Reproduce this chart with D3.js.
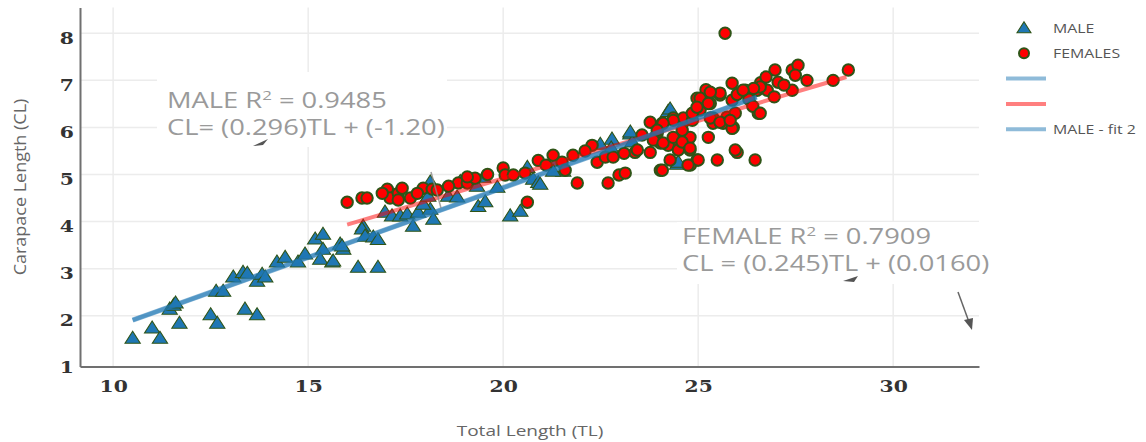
<!DOCTYPE html>
<html><head><meta charset="utf-8">
<script src="https://cdn.jsdelivr.net/npm/d3@7"></script>
<style>
html,body{margin:0;padding:0;background:#fff;}
svg{display:block;}
</style></head>
<body>
<svg id="chart" width="1146" height="442"></svg>
<script>
// ---- data ----
const xTicks = [10, 15, 20, 25, 30];
const yTicks = [1, 2, 3, 4, 5, 6, 7, 8];

const maleTL = [10.5,11.0,11.2,11.7,11.45,11.55,11.6,12.5,12.67,12.64,12.82,13.08,13.33,13.44,13.38,13.69,13.69,13.82,13.9,14.2,14.41,14.74,14.92,15.18,15.38,15.38,15.31,15.62,15.82,15.9,15.64,15.87,16.28,16.79,16.41,16.38,16.46,16.67,16.79,16.97,17.15,17.36,17.54,17.69,17.82,18.13,18.21,17.95,18.13,18.08,18.59,18.82,19.36,19.54,18.9,19.08,19.49,19.33,19.85,20.18,20.44,20.62,20.77,20.9,21.38,21.54,20.95,21.28,22.49,22.79,23.26,24.23,23.31,22.77,24.46,24.28,23.26,24.49];
const maleCL = [1.5,1.72,1.5,1.82,2.12,2.2,2.25,2.0,1.82,2.5,2.5,2.8,2.9,2.88,2.12,2.0,2.71,2.86,2.8,3.12,3.22,3.12,3.29,3.61,3.71,3.39,3.18,3.12,3.5,3.39,3.14,3.46,3.01,3.01,3.88,3.82,3.67,3.65,3.6,4.18,4.1,4.1,4.14,3.88,4.18,4.24,4.03,4.35,4.82,4.52,4.52,4.5,4.3,4.4,4.83,4.88,4.92,4.73,4.71,4.1,4.2,5.13,4.88,4.81,5.26,5.05,4.77,5.05,5.62,5.73,5.84,6.32,5.67,5.54,5.2,6.37,5.88,5.24];

const femaleTL = [16.0,16.38,16.51,17.03,17.1,17.31,17.41,17.62,17.31,17.95,18.18,18.31,18.85,19.08,19.28,19.08,20.0,20.05,20.26,20.56,20.62,21.28,21.51,21.79,21.59,21.9,22.28,22.41,22.62,22.82,22.69,22.97,23.38,23.77,23.56,23.9,24.03,24.28,24.08,24.36,24.62,24.46,24.74,24.87,24.97,25.26,25.49,26.0,24.97,25.31,25.56,25.74,25.9,25.69,26.97,27.41,27.56,27.49,27.79,28.46,28.85,25.87,26.21,26.51,26.77,27.41,27.05,25.87,25.38,25.95,25.64,25.87,26.54,26.46,24.62,24.85,24.79,24.49,25.05,25.38,23.77,23.95,24.03,24.23,24.49,24.79,24.85,26.3,26.6,26.0,25.2,26.95,27.2,26.4,20.9,19.6,18.6,17.8,16.9,23.1,22.1,21.1,24.8,
  26.74,26.59,26.42,26.15,25.56,25.31,25.05,25.26,24.97,25.31,25.56,25.82,26.59,24.59,24.36,24.1,23.95,23.85,24.1,24.36,24.59,24.79,23.44,25.0,25.95,24.08,24.74,23.13];
const femaleCL = [4.41,4.5,4.5,4.69,4.5,4.6,4.71,4.5,4.46,4.71,4.69,4.67,4.82,4.82,4.92,4.95,5.14,4.99,4.99,5.03,4.41,5.41,5.26,5.41,5.09,4.82,5.62,5.26,5.37,5.37,4.82,4.99,5.47,5.47,5.84,5.79,5.09,5.31,6.09,6.2,6.11,5.69,5.73,6.3,5.31,5.79,5.31,5.47,6.62,6.51,6.69,6.22,6.0,8.0,7.22,7.22,7.32,7.11,7.0,7.0,7.22,6.94,6.79,6.79,6.79,6.79,6.96,6.58,6.2,6.3,6.09,5.98,6.3,5.31,6.2,6.15,5.79,5.69,6.37,6.09,6.11,5.88,5.67,5.62,5.52,5.52,6.3,6.6,6.95,6.7,6.8,6.65,6.9,6.45,5.3,5.0,4.75,4.6,4.6,5.45,5.5,5.2,5.2,
  7.07,6.86,6.83,6.79,6.73,6.75,6.62,6.51,6.43,6.2,6.11,6.15,6.3,5.94,6.15,6.09,5.94,5.73,5.67,5.79,5.69,5.56,5.52,5.31,5.52,5.09,5.2,5.03];

// fitted lines (from annotations)
const maleFit = {slope: 0.296, intercept: -1.20, from: 10.5, to: 26.5};
const femaleFit = {slope: 0.245, intercept: 0.016, from: 16.0, to: 28.8};

const legendLabels = ["MALE", "FEMALES", "", "", "MALE - fit 2"];

// ---- scales ----
const svg = d3.select("#chart");
const x = d3.scaleLinear().domain([9.15, 32.2]).range([80, 979]);
const y = d3.scaleLinear().domain([0.92, 8.55]).range([366.6, 7.4]);

const BLUE = "#1f77b4", RED = "#ff0000", EDGE = "#2f5417";
const SX = 1.27; // horizontal stretch of the text in the reference

function stretch(sel, sx, sy) {
  sel.each(function () {
    const t = d3.select(this);
    const tx = +t.attr("x") || 0, ty = +t.attr("y") || 0;
    const prev = t.attr("transform") || "";
    t.attr("x", 0).attr("y", 0)
     .attr("transform", `${prev} translate(${tx},${ty}) scale(${sx},${sy || 1})`);
  });
}

// grid
const grid = svg.append("g");
grid.selectAll("line.h").data(yTicks.filter(d => d > 1)).join("line")
  .attr("x1", x.range()[0]).attr("x2", x.range()[1])
  .attr("y1", d => y(d)).attr("y2", d => y(d))
  .attr("stroke", "#ececec").attr("stroke-width", 1.5);
grid.selectAll("line.v").data(xTicks).join("line")
  .attr("y1", y.range()[0]).attr("y2", y.range()[1])
  .attr("x1", d => x(d)).attr("x2", d => x(d))
  .attr("stroke", "#ececec").attr("stroke-width", 1.5);

// annotation background boxes (hide gridlines)
svg.append("rect").attr("x", 157).attr("y", 72).attr("width", 290).attr("height", 75).attr("fill", "#fff");
svg.append("rect").attr("x", 677).attr("y", 222).attr("width", 320).attr("height", 62).attr("fill", "#fff");

// axes
const xAxis = d3.axisBottom(x).tickValues(xTicks).tickSize(0).tickPadding(14);
const yAxis = d3.axisLeft(y).tickValues(yTicks).tickSize(0).tickPadding(6);
const gx = svg.append("g").attr("transform", `translate(0,${y.range()[0]})`).call(xAxis);
const gy = svg.append("g").attr("transform", `translate(${x.range()[0]},0)`).call(yAxis);
[gx, gy].forEach(g => {
  g.select(".domain").attr("stroke", "#707070").attr("stroke-width", 2);
  g.selectAll("text").attr("font-family", "DejaVu Serif").attr("font-weight", "bold")
    .attr("font-size", 16).attr("fill", "#333");
});
gy.selectAll("text").attr("dy", "0.62em");
stretch(gx.selectAll("text"), SX);
stretch(gy.selectAll("text"), SX);

// markers
const males = maleTL.map((t, i) => [t, maleCL[i]]);
const females = femaleTL.map((t, i) => [t, femaleCL[i]]);
const tri = d3.symbol(d3.symbolTriangle, 84);
svg.append("g").selectAll("path").data(males).join("path")
  .attr("d", tri)
  .attr("transform", d => `translate(${x(d[0])},${y(d[1])}) scale(1.1,1)`)
  .attr("fill", BLUE).attr("stroke", EDGE).attr("stroke-width", 1);
svg.append("g").selectAll("circle").data(females).join("circle")
  .attr("cx", d => x(d[0])).attr("cy", d => y(d[1])).attr("r", 5.7)
  .attr("fill", RED).attr("stroke", EDGE).attr("stroke-width", 2);

// fit lines
function fitLine(f) { return [[f.from, f.slope * f.from + f.intercept], [f.to, f.slope * f.to + f.intercept]]; }
const line = d3.line().x(d => x(d[0])).y(d => y(d[1]));
svg.append("path").attr("d", line(fitLine(femaleFit))).attr("stroke", RED).attr("stroke-opacity", 0.5)
  .attr("stroke-width", 4).attr("fill", "none");
svg.append("path").attr("d", line(fitLine(maleFit))).attr("stroke", BLUE).attr("stroke-opacity", 0.55)
  .attr("stroke-width", 5).attr("fill", "none");
svg.append("path").attr("d", line(fitLine(maleFit))).attr("stroke", BLUE).attr("stroke-opacity", 0.5)
  .attr("stroke-width", 4).attr("fill", "none");

// annotation arrows
svg.append("line").attr("x1", 431).attr("y1", 172).attr("x2", 441).attr("y2", 208)
  .attr("stroke", "#888").attr("stroke-width", 1.5).attr("stroke-opacity", 0.8);
svg.append("path").attr("d", "M253,146 L268,139 L263,145 Z").attr("fill", "#555");
svg.append("path").attr("d", "M843,281 L858,276 L854,282 Z").attr("fill", "#555");
svg.append("line").attr("x1", 958).attr("y1", 292).attr("x2", 969).attr("y2", 322)
  .attr("stroke", "#666").attr("stroke-width", 1.5);
svg.append("path").attr("d", "M964,320 L972,330 L973,318 Z").attr("fill", "#555");

// annotation text
const AF = 21, ASX = 1.3;
function annot(x0, y0, name, r2, eq) {
  const t = svg.append("text").attr("x", x0).attr("y", y0)
    .attr("font-family", "Open Sans").attr("font-size", AF).attr("fill", "#9a9a9a");
  t.append("tspan").text(name + " R");
  t.append("tspan").attr("dy", -8).attr("font-size", 13).text("2");
  t.append("tspan").attr("dy", 8).text(" = " + r2);
  stretch(t, ASX);
  const t2 = svg.append("text").attr("x", x0).attr("y", y0 + 27)
    .attr("font-family", "Open Sans").attr("font-size", AF).attr("fill", "#9a9a9a").text(eq);
  stretch(t2, ASX);
}
annot(167, 108, "MALE", "0.9485", "CL= (0.296)TL + (-1.20)");
annot(682, 244, "FEMALE", "0.7909", "CL = (0.245)TL + (0.0160)");

// axis titles
const yt = svg.append("text").attr("transform", "translate(26,187) rotate(-90) scale(1.2,1.1)").attr("text-anchor", "middle")
  .attr("font-family", "Open Sans").attr("font-size", 15).attr("fill", "#666").text("Carapace Length (CL)");
const xt = svg.append("text").attr("x", 530).attr("y", 436).attr("text-anchor", "middle")
  .attr("font-family", "Open Sans").attr("font-size", 15).attr("fill", "#666").text("Total Length (TL)");
stretch(xt, SX);

// legend
const lg = svg.append("g").attr("transform", "translate(1006,28)");
const rows = legendLabels.map((l, i) => ({label: l, i}));
rows.forEach(r => {
  const gy0 = r.i * 25.3;
  const g = lg.append("g").attr("transform", `translate(0,${gy0})`);
  if (r.i === 0) g.append("path").attr("d", d3.symbol(d3.symbolTriangle, 70)).attr("transform", "translate(18,1) scale(1.1,1)")
    .attr("fill", BLUE).attr("stroke", EDGE).attr("stroke-width", 1);
  else if (r.i === 1) g.append("circle").attr("cx", 18).attr("cy", 0).attr("r", 5).attr("fill", RED)
    .attr("stroke", EDGE).attr("stroke-width", 2);
  else g.append("line").attr("x1", 0).attr("x2", 40).attr("y1", 0).attr("y2", 0)
    .attr("stroke", r.i === 3 ? RED : BLUE).attr("stroke-opacity", 0.5).attr("stroke-width", 4);
  if (r.label) {
    const tx = g.append("text").attr("x", 47).attr("y", 0).attr("dy", "0.35em")
      .attr("font-family", "Open Sans").attr("font-size", 13).attr("fill", "#555").text(r.label);
    stretch(tx, 1.22);
  }
});
</script>
</body></html>
